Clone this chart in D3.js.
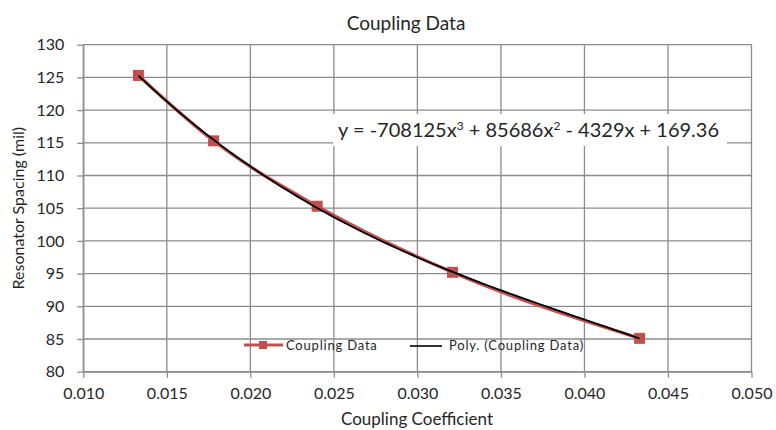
<!DOCTYPE html>
<html lang="en">
<head>
<meta charset="utf-8">
<title>Coupling Data</title>
<script src="https://d3js.org/d3.v7.min.js"></script>
<style>
  body { margin: 0; background: #fff; }
  text { font-family: Lato, "Open Sans", sans-serif; fill: #262626; }
</style>
</head>
<body>
<div id="stage"></div>
<script>
// chart values
var coupling = [0.0133, 0.0178, 0.0240, 0.0321, 0.0433];
var spacing = [125.3, 115.3, 105.3, 95.2, 85.1];
var xTicks = [0.010, 0.015, 0.020, 0.025, 0.030, 0.035, 0.040, 0.045, 0.050];
var yTicks = [80, 85, 90, 95, 100, 105, 110, 115, 120, 125, 130];
// trendline coefficients (x^3, x^2, x, const) as printed on the chart
var trendCoef = [-708125, 85686, -4329, 169.36];

var W = 776, H = 430;
var svg = d3.select("#stage").append("svg").attr("width", W).attr("height", H);

var x = d3.scaleLinear().domain([0.010, 0.050]).range([83.3, 751.5]);
var y = d3.scaleLinear().domain([80, 130]).range([371.7, 44.7]);

var grid = "#8c8c8c";

// gridlines
svg.append("g").selectAll("line").data(yTicks).join("line")
  .attr("x1", x(0.010)).attr("x2", x(0.050))
  .attr("y1", d => y(d)).attr("y2", d => y(d))
  .attr("stroke", grid).attr("stroke-width", 1.3);
svg.append("g").selectAll("line").data(xTicks).join("line")
  .attr("x1", d => x(d)).attr("x2", d => x(d))
  .attr("y1", y(80)).attr("y2", y(130))
  .attr("stroke", grid).attr("stroke-width", 1.3);

// axes
var xAxis = svg.append("g").attr("transform", "translate(0," + y(80) + ")")
  .call(d3.axisBottom(x).tickValues(xTicks).tickFormat(d3.format(".3f")).tickSize(6).tickSizeOuter(0).tickPadding(10));
var yAxis = svg.append("g").attr("transform", "translate(" + x(0.010) + ",0)")
  .call(d3.axisLeft(y).tickValues(yTicks).tickSize(6).tickSizeOuter(0).tickPadding(13));
[xAxis, yAxis].forEach(function (a) {
  a.select(".domain").attr("stroke", grid).attr("stroke-width", 1.3);
  a.selectAll(".tick line").attr("stroke", grid).attr("stroke-width", 1.3);
  a.selectAll(".tick text").attr("font-size", 16).attr("fill", "#262626")
    .attr("font-family", "Lato, 'Open Sans', sans-serif");
});

// data series
var pts = coupling.map((c, i) => [c, spacing[i]]);
svg.append("path").datum(pts)
  .attr("d", d3.line().x(d => x(d[0])).y(d => y(d[1])).curve(d3.curveMonotoneX))
  .attr("fill", "none").attr("stroke", "#c0504d").attr("stroke-width", 3.2);
svg.append("g").selectAll("rect").data(pts).join("rect")
  .attr("x", d => x(d[0]) - 5.5).attr("y", d => y(d[1]) - 5.5)
  .attr("width", 11).attr("height", 11).attr("fill", "#c0504d");

// polynomial trendline
function poly(v) {
  return trendCoef[0] * v * v * v + trendCoef[1] * v * v + trendCoef[2] * v + trendCoef[3];
}
var tx = d3.range(0, 61).map(i => coupling[0] + (coupling[coupling.length - 1] - coupling[0]) * i / 60);
svg.append("path").datum(tx)
  .attr("d", d3.line().x(d => x(d)).y(d => y(poly(d))))
  .attr("fill", "none").attr("stroke", "#000").attr("stroke-width", 1.8);

// equation label
svg.append("rect").attr("x", 333).attr("y", 114).attr("width", 394).attr("height", 32).attr("fill", "#fff");
var eq = svg.append("text").attr("x", 338).attr("y", 137).attr("font-size", 20);
eq.append("tspan").text("y = -708125x");
eq.append("tspan").attr("font-size", 12).attr("dy", -7).text("3");
eq.append("tspan").attr("dy", 7).text(" + 85686x");
eq.append("tspan").attr("font-size", 12).attr("dy", -7).text("2");
eq.append("tspan").attr("dy", 7).text(" - 4329x + 169.36");

// legend
var lg = svg.append("g");
lg.append("line").attr("x1", 244).attr("x2", 283).attr("y1", 345).attr("y2", 345)
  .attr("stroke", "#c0504d").attr("stroke-width", 3.2);
lg.append("rect").attr("x", 259).attr("y", 341).attr("width", 8).attr("height", 8).attr("fill", "#c0504d");
lg.append("text").attr("x", 286).attr("y", 350).attr("font-size", 13).attr("letter-spacing", 0.8).text("Coupling Data");
lg.append("line").attr("x1", 410).attr("x2", 442).attr("y1", 346).attr("y2", 346)
  .attr("stroke", "#000").attr("stroke-width", 1.6);
lg.append("text").attr("x", 449).attr("y", 350).attr("font-size", 13).attr("letter-spacing", 0.8).text("Poly. (Coupling Data)");

// titles
svg.append("text").attr("x", 406).attr("y", 30).attr("text-anchor", "middle")
  .attr("font-size", 19).text("Coupling Data");
svg.append("text").attr("x", 417).attr("y", 425).attr("text-anchor", "middle")
  .attr("font-size", 17).text("Coupling Coefficient");
svg.append("text").attr("transform", "translate(24," + ((y(80) + y(130)) / 2) + ") rotate(-90)")
  .attr("text-anchor", "middle").attr("font-size", 16).text("Resonator Spacing (mil)");
</script>
</body>
</html>
